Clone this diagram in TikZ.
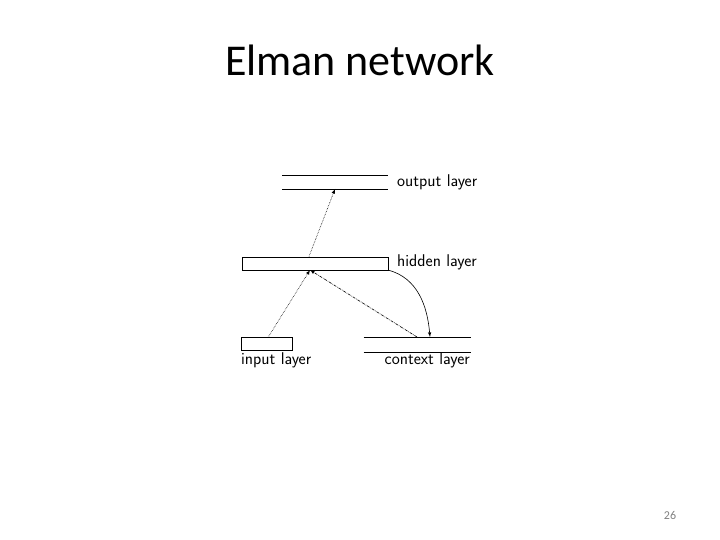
\documentclass[tikz,border=0pt]{standalone}
\usepackage{fontspec}
\usepackage{tikz}
\usetikzlibrary{positioning}
\newfontfamily\slidefont{Carlito}

\begin{document}
\begin{tikzpicture}[x=1pt,y=-1pt,
	layer/.style={inner sep=0pt, outer sep=0pt},
	label/.style={inner sep=0pt, font=\sffamily\fontsize{17}{20}\selectfont},
	conn/.style={-latex, line width=0.6pt}]

	\useasboundingbox (0,0) rectangle (720,540);

	% title
	\node[anchor=base, inner sep=0pt] (title) at (360,76)
		{\slidefont\fontsize{44}{52}\selectfont Elman network};

	% node definitions
	\node[layer, minimum width=106pt, minimum height=14pt] (output) at (335,182) {};
	\node[layer, draw, minimum width=146pt, minimum height=13pt] (hidden) at (315,263.5) {};
	\node[layer, draw, minimum width=51pt, minimum height=13pt] (input) at (267,344) {};
	\node[layer, minimum width=107pt, minimum height=14.5pt] (context) at (417,344.5) {};

	% open layers
	\draw (output.north west) -- (output.north east);
	\draw (output.south west) -- (output.south east);
	\draw (context.north west) -- (context.north east);
	\draw (context.south west) -- (context.south east);

	% labels
	\node[label, anchor=base west] (output_lbl) at (397,186.5) {output layer};
	\node[label, anchor=base west] (hidden_lbl) at (397,266.5) {hidden layer};
	\node[label, anchor=base west] (input_lbl) at (241,364) {input layer};
	\node[label, anchor=base east] (context_lbl) at (470,364) {context layer};

	% connection points
	\coordinate (h_in) at (310,270);
	\coordinate (h_out) at (309,256.5);
	\coordinate (o_in) at (335,189);
	\coordinate (i_out) at (268,337.5);
	\coordinate (c_out) at (417,337);
	\coordinate (c_in) at (430,337);

	% arrows
	\draw[conn, densely dotted] (i_out) -- (h_in);
	\draw[conn, densely dashdotted] (c_out) -- (h_in);
	\draw[conn, densely dotted] (h_out) -- (o_in);
	\draw[conn] (hidden.south east) to[out=-15, in=95] (c_in);

	% page number
	\node[anchor=base, inner sep=0pt, text=gray] (page) at (670,519)
		{\slidefont\fontsize{12}{14}\selectfont 26};

\end{tikzpicture}
\end{document}
